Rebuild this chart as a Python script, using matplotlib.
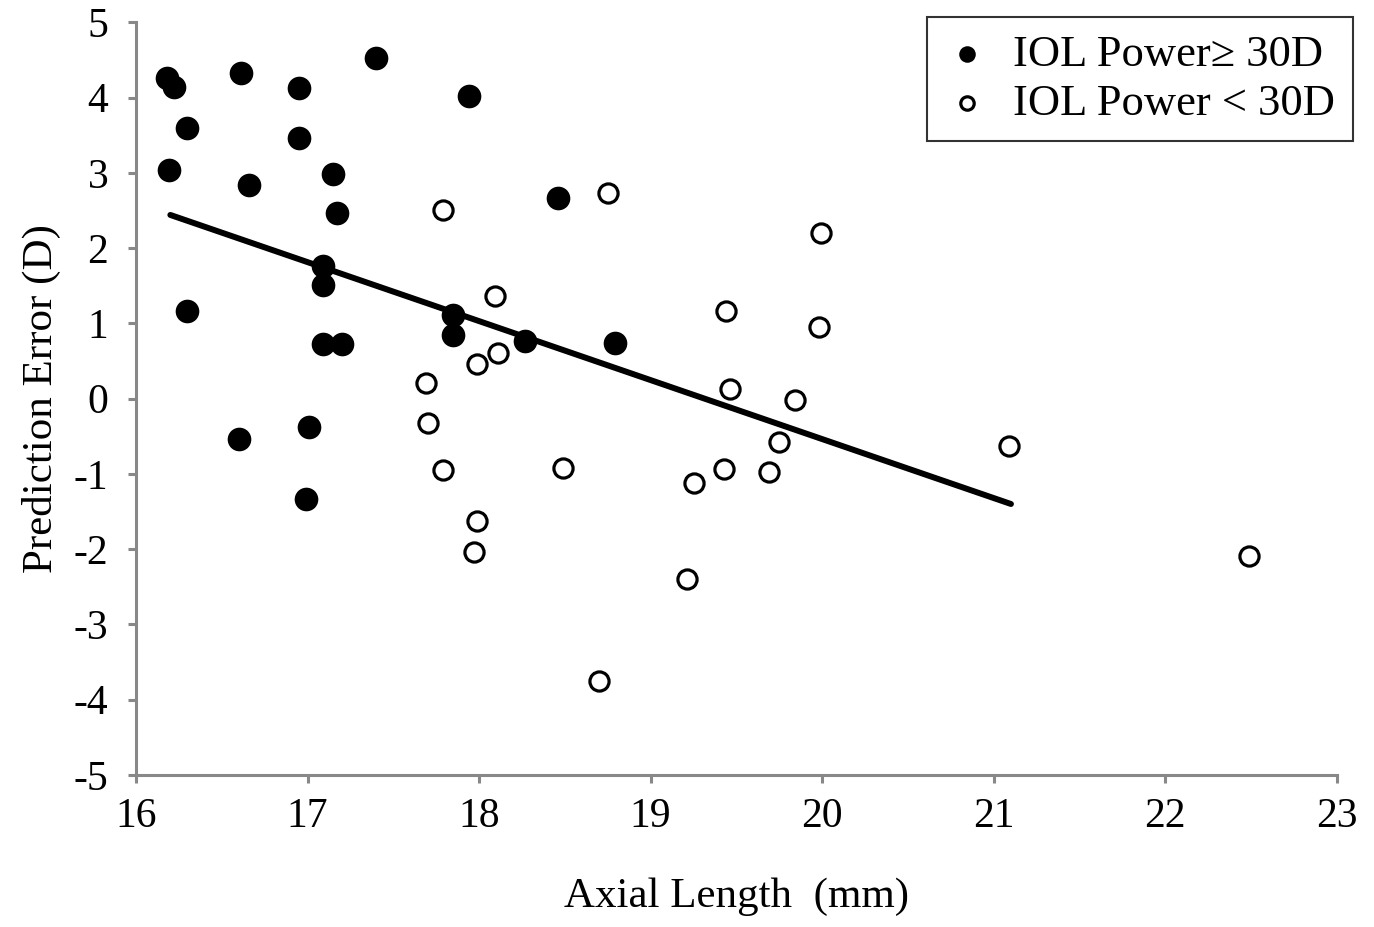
import matplotlib
matplotlib.use("Agg")
import matplotlib.pyplot as plt

plt.rcParams['font.family'] = ['Liberation Serif', 'DejaVu Serif']
plt.rcParams['axes.unicode_minus'] = False

# IOL power >= 30D (filled)
al_high = [16.18, 16.22, 16.61, 16.95, 17.40, 17.94, 16.30, 16.95, 16.19, 16.66,
           17.15, 17.17, 18.46, 17.09, 17.09, 16.30, 17.09, 17.20, 17.85, 17.85,
           18.27, 18.79, 16.60, 17.01, 16.99]
pe_high = [4.26, 4.14, 4.33, 4.13, 4.53, 4.02, 3.60, 3.46, 3.04, 2.84,
           2.98, 2.46, 2.67, 1.76, 1.51, 1.16, 0.73, 0.72, 1.11, 0.84,
           0.77, 0.74, -0.54, -0.38, -1.33]

# IOL power < 30D (open)
al_low = [17.79, 18.75, 19.995, 18.09, 19.44, 19.98, 18.11, 17.99, 17.69, 19.46,
          19.84, 17.70, 19.75, 21.09, 17.79, 18.49, 19.43, 19.69, 19.25, 17.99,
          17.97, 19.21, 18.70, 22.49]
pe_low = [2.50, 2.73, 2.20, 1.36, 1.16, 0.95, 0.60, 0.46, 0.21, 0.125,
          -0.02, -0.33, -0.58, -0.63, -0.95, -0.92, -0.94, -0.97, -1.12, -1.62,
          -2.04, -2.40, -3.75, -2.09]

# trend line end points
trend_x = [16.2, 21.1]
trend_y = [2.44, -1.40]

fig = plt.figure(figsize=(13.74, 9.27), dpi=100)
ax = fig.add_axes([0.099, 0.164, 0.874, 0.812])

ax.scatter(al_high, pe_high, s=290, c='black', edgecolors='black', linewidths=0,
           label='IOL Power\u2265 30D', zorder=3)
ax.scatter(al_low, pe_low, s=190, facecolors='white', edgecolors='black', linewidths=2.3,
           label='IOL Power < 30D', zorder=3)
ax.plot(trend_x, trend_y, color='black', linewidth=4.3, solid_capstyle='round', zorder=4)

ax.set_xlim(16, 23)
ax.set_ylim(-5, 5)
ax.set_xticks(range(16, 24))
ax.set_yticks(range(-5, 6))

for side in ['top', 'right']:
    ax.spines[side].set_visible(False)
for side in ['left', 'bottom']:
    ax.spines[side].set_color('#888888')
    ax.spines[side].set_linewidth(2.2)
ax.tick_params(axis='both', colors='#888888', width=2.2, length=6, labelsize=30,
               labelcolor='black')
ax.tick_params(axis='x', pad=10)
ax.tick_params(axis='y', pad=14)

ax.set_xlabel('Axial Length  (mm)', fontsize=31, labelpad=30)
ax.set_ylabel('Prediction Error (D)', fontsize=31, labelpad=9)

leg = ax.legend(loc='upper right', bbox_to_anchor=(1.032, 1.037), fontsize=32,
                frameon=True, fancybox=False, edgecolor='black', markerscale=0.7,
                handletextpad=0.55, borderpad=0.4, labelspacing=0.2, handlelength=1.0,
                borderaxespad=0.5)
leg.get_frame().set_linewidth(1.5)

fig.savefig('out.png', dpi=100)
